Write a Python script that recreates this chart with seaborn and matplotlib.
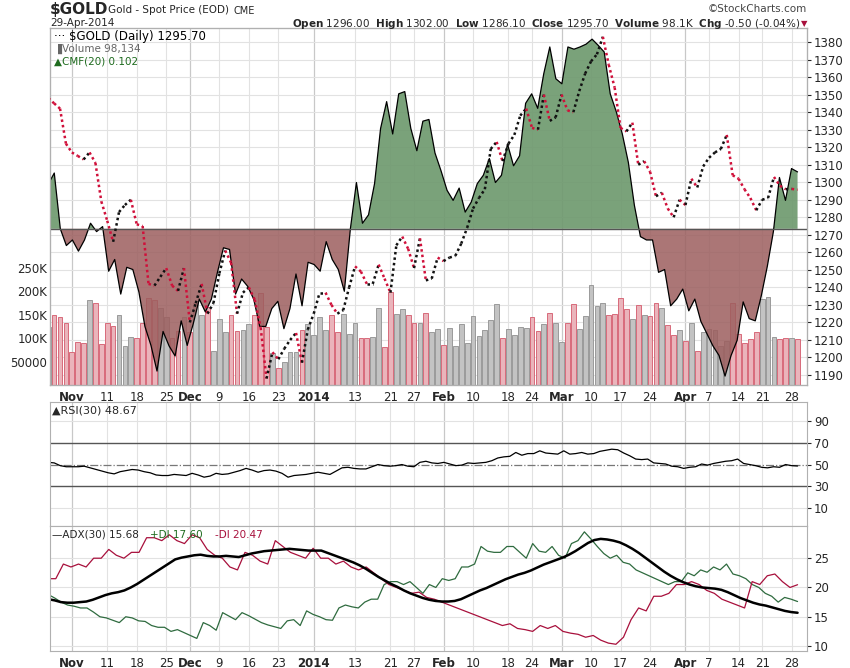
import numpy as np
import pandas as pd
import matplotlib
matplotlib.use("Agg")
import matplotlib.pyplot as plt
import seaborn as sns

sns.set_style("white")
plt.rcParams["font.family"] = ["DejaVu Sans"]

# ---- data ----
dates = pd.bdate_range("2013-10-28", "2014-04-29")
dates = dates.drop(pd.to_datetime(["2013-11-28", "2013-12-25", "2014-01-01", "2014-04-18"]))

price = [1348, 1345, 1342, 1322, 1317, 1315, 1313, 1317, 1311, 1289, 1278, 1266, 1283, 1287, 1290, 1276,
         1275, 1242, 1241, 1246, 1251, 1241, 1238, 1251, 1220, 1231, 1242, 1225, 1231, 1248, 1261, 1254,
         1225, 1237, 1240, 1233, 1217, 1188, 1203, 1199, 1205, 1210, 1214, 1197, 1216, 1225, 1237, 1237,
         1230, 1225, 1227, 1240, 1252, 1249, 1242, 1242, 1253, 1245, 1237, 1264, 1269, 1262, 1251, 1268,
         1244, 1245, 1257, 1255, 1257, 1258, 1265, 1274, 1285, 1291, 1296, 1319, 1323, 1312, 1322, 1327,
         1338, 1342, 1331, 1330, 1350, 1335, 1337, 1350, 1341, 1340, 1352, 1362, 1369, 1373, 1383, 1367,
         1354, 1331, 1329, 1334, 1310, 1312, 1306, 1292, 1294, 1285, 1280, 1290, 1287, 1302, 1297, 1309,
         1314, 1317, 1319, 1327, 1304, 1302, 1296, 1291, 1284, 1290, 1291, 1303, 1298, 1296, 1296.2, 1295.7]

cmf = [0.08, 0.10, 0.0, -0.03, -0.02, -0.04, -0.02, 0.01, -0.005, 0.004, -0.076, -0.055, -0.117, -0.069,
       -0.073, -0.113, -0.175, -0.209, -0.255, -0.184, -0.21, -0.228, -0.165, -0.209, -0.17, -0.126, -0.149,
       -0.126, -0.078, -0.034, -0.037, -0.117, -0.09, -0.103, -0.126, -0.175, -0.175, -0.143, -0.13, -0.179,
       -0.143, -0.081, -0.138, -0.06, -0.064, -0.076, -0.023, -0.055, -0.073, -0.112, 0.0, 0.083, 0.01,
       0.025, 0.081, 0.18, 0.228, 0.17, 0.242, 0.246, 0.18, 0.14, 0.193, 0.196, 0.136, 0.104, 0.069, 0.051,
       0.073, 0.03, 0.048, 0.081, 0.096, 0.126, 0.083, 0.096, 0.152, 0.113, 0.131, 0.225, 0.242, 0.216,
       0.278, 0.326, 0.269, 0.26, 0.326, 0.322, 0.326, 0.331, 0.34, 0.329, 0.317, 0.242, 0.21, 0.17, 0.119,
       0.042, -0.014, -0.02, -0.02, -0.078, -0.073, -0.138, -0.126, -0.108, -0.147, -0.126, -0.166, -0.188,
       -0.21, -0.227, -0.264, -0.227, -0.2, -0.131, -0.161, -0.165, -0.12, -0.067, -0.005, 0.092, 0.051,
       0.108, 0.102]

volume_k = [123, 150, 144, 131, 71, 92, 90, 182, 175, 88, 133, 126, 150, 84, 103, 99, 133, 186, 182, 163,
            144, 99, 114, 144, 112, 175, 148, 167, 73, 141, 112, 148, 114, 118, 129, 150, 195, 124, 69, 37,
            50, 71, 71, 118, 129, 107, 144, 118, 148, 112, 152, 109, 133, 99, 99, 103, 163, 80, 197, 152,
            161, 150, 131, 131, 154, 112, 120, 86, 122, 84, 129, 90, 146, 105, 118, 139, 173, 101, 120, 107,
            124, 122, 144, 116, 129, 154, 131, 92, 133, 173, 120, 146, 212, 169, 175, 148, 152, 186, 161, 141,
            171, 148, 146, 175, 163, 127, 107, 118, 94, 131, 73, 112, 120, 118, 84, 94, 175, 109, 90, 97,
            112, 184, 188, 103, 97, 99, 101, 98]

rsi = [52, 51.5, 49, 48, 48, 48, 48.5, 47, 45.5, 44, 42.5, 41.5, 43.5, 44.5, 45.5, 45, 43.5, 42.5, 40.5,
       40, 40, 41, 40.5, 40, 42, 40.5, 38.5, 39.5, 42, 41, 41.5, 43, 44.5, 46.5, 45, 43, 44.5, 45, 44,
       42, 38.5, 40, 40.5, 41, 42, 43, 42, 41, 44, 47, 47.5, 46.5, 46, 46, 48, 50, 49, 48.5, 49, 50, 48.5,
       48, 52, 53, 51.5, 51, 52, 50.5, 49, 49.5, 51.5, 51, 51.5, 52, 53.5, 56, 57, 57.5, 61, 58.5, 60, 60,
       62.5, 60.5, 60, 59.5, 62.5, 59.5, 60, 61, 59.5, 60, 62, 63, 64, 63.5, 60.5, 58, 55, 54.5, 55, 51.5,
       51, 50.5, 48.5, 48, 46.5, 47.5, 48, 50.5, 49.5, 51, 52, 53, 53.5, 55, 51, 50, 49, 47.5, 47, 48, 47.5,
       50, 49, 48.67]

adx = [18, 17.8, 17.5, 17.4, 17.4, 17.5, 17.6, 17.9, 18.3, 18.7, 19, 19.2, 19.5, 20, 20.6, 21.3, 22,
       22.7, 23.4, 24.1, 24.8, 25.1, 25.3, 25.5, 25.6, 25.4, 25.3, 25.3, 25.4, 25.3, 25.2, 25.5, 25.8,
       26, 26.2, 26.3, 26.4, 26.5, 26.6, 26.5, 26.4, 26.3, 26.3, 26.3, 25.9, 25.5, 25.1, 24.7, 24.3, 23.8,
       23.2, 22.5, 21.8, 21.2, 20.6, 20.1, 19.5, 19, 18.6, 18.2, 17.9, 17.7, 17.6, 17.6, 17.7, 18, 18.5,
       19, 19.5, 19.9, 20.4, 20.9, 21.4, 21.8, 22.2, 22.5, 22.9, 23.4, 23.9, 24.3, 24.7, 25.1, 25.6, 26.2,
       26.9, 27.6, 28.1, 28.3, 28.2, 28, 27.7, 27.2, 26.6, 25.9, 25.1, 24.3, 23.5, 22.7, 22, 21.4, 20.9,
       20.5, 20.2, 20, 19.9, 19.8, 19.6, 19.2, 18.7, 18.2, 17.8, 17.4, 17.1, 16.9, 16.6, 16.3, 16, 15.8,
       15.68]

plus_di = [18.8, 18.2, 17.5, 17, 16.8, 16.5, 16.5, 15.8, 15, 14.8, 14.4, 14, 15, 14.8, 14.3, 14.2, 13.5,
           13.2, 13.2, 12.5, 12.8, 12.3, 11.8, 11.3, 14, 13.5, 12.7, 15.7, 15.1, 14.5, 15.7, 15.2, 14.6,
           14, 13.6, 13.3, 13, 14.3, 14.5, 13.5, 16, 15.4, 15, 14.5, 14.4, 16.5, 17, 16.7, 16.5, 17.5, 18,
           18, 20.5, 21, 21, 20.5, 21, 20, 19, 20.5, 20, 21.5, 21.2, 21.5, 23.5, 23.5, 24, 27, 26.2, 26, 26,
           27, 27, 26, 25, 27.5, 26.2, 26, 27, 25.5, 25, 27.5, 28, 29.5, 28.3, 27, 25.8, 25, 25.5, 24.3, 24,
           23, 22.5, 22, 21.5, 21, 20.5, 21, 21, 22.5, 22, 23, 22.6, 23.5, 23, 24, 22.3, 22, 21.5, 20.5,
           20, 19, 18.5, 17.5, 18.3, 18, 17.6]

minus_di = [21.5, 21.5, 24, 23.5, 24, 23.5, 25, 25, 26.5, 25.5, 25, 26, 26, 28.5, 28.5, 28, 29, 28, 27.5,
            29, 28.5, 26.5, 25.5, 25, 23.5, 23, 26, 25.5, 24.5, 24, 28, 27, 26, 25.5, 25, 26.7, 25, 25, 24,
            24.5, 23.5, 23, 23.5, 22.5, 21.5, 20.5, 20, 19.5, 19, 19.2, 18.3, 18, 17.5, 17, 16.5, 16, 15.5,
            15, 14.5, 14, 13.5, 13.8, 13, 12.8, 12.5, 13.5, 13, 13.5, 12.5, 12.2, 12, 11.5, 11.8, 11, 10.5,
            10.3, 11.5, 14.5, 16.5, 16, 18.5, 18.5, 19, 20.5, 20.5, 21, 20.5, 19.5, 19, 18, 17.5, 17, 16.5,
            21, 20.5, 22, 22.3, 21, 20, 20.47]

month_ticks = ["2013-11-01", "2013-12-02", "2014-01-02", "2014-02-03", "2014-03-03", "2014-04-01"]
month_labels = ["Nov", "Dec", "2014", "Feb", "Mar", "Apr"]
week_ticks = ["2013-11-11", "2013-11-18", "2013-11-25", "2013-12-09", "2013-12-16", "2013-12-23",
              "2014-01-13", "2014-01-21", "2014-01-27", "2014-02-10", "2014-02-18", "2014-02-24",
              "2014-03-10", "2014-03-17", "2014-03-24", "2014-04-07", "2014-04-14", "2014-04-21", "2014-04-28"]
week_labels = [d[-2:].lstrip("0") for d in week_ticks]

N = len(dates)


def xs(series):
    # spread a series over the trading-day axis
    return np.linspace(0, N - 1, len(series))


def day(d):
    return dates.get_loc(pd.Timestamp(d))


mpos = [day(d) for d in month_ticks]
wpos = [day(d) for d in week_ticks]
XL = (0.3, 128.6)

fig = plt.figure(figsize=(8.5, 6.68), dpi=100)
W, H = 850, 668


def add_ax(top, bottom, left=50, right=807):
    return fig.add_axes([left / W, 1 - bottom / H, (right - left) / W, (bottom - top) / H])


def grid(ax, yt):
    for p in wpos:
        ax.axvline(p, color="#e2e2e2", lw=0.8, zorder=0)
    for p in mpos:
        ax.axvline(p, color="#c8c8c8", lw=0.9, zorder=0)
    for v in yt:
        ax.axhline(v, color="#e2e2e2", lw=0.8, zorder=0)


def frame(ax):
    for s in ax.spines.values():
        s.set_color("#b0b0b0")
        s.set_linewidth(0.8)


def date_axis(ax):
    ax.set_xticks(mpos + wpos)
    ax.set_xticklabels(month_labels + week_labels)
    ax.tick_params(axis="x", length=3, labelsize=8.5, pad=1)
    for t in ax.get_xticklabels()[:6]:
        t.set_fontweight("bold")


# ---- main panel ----
ax_v = add_ax(28, 385)
ax_c = ax_v.twinx()
ax_p = ax_v.twinx()
for a in (ax_v, ax_c, ax_p):
    a.set_xlim(*XL)
    frame(a)

ax_p.set_ylim(1184.3, 1388)
ptick = np.arange(1190, 1381, 10)
grid(ax_v, [])
for v in ptick:
    ax_v.axhline((v - 1184.3) / (1388 - 1184.3) * 760000, color="#e2e2e2", lw=0.8, zorder=0)

pr = np.array(price, dtype=float)
px = xs(price)
up = np.r_[True, pr[1:] >= pr[:-1]]

ax_v.set_ylim(0, 760000)
vx = xs(volume_k)
vcol_up = np.interp(vx, px, up.astype(float)) > 0.5
ax_v.bar(vx, np.array(volume_k) * 1000, width=0.8,
         color=np.where(vcol_up, "#c3c3c3", "#eab4bb"),
         edgecolor=np.where(vcol_up, "#9a9a9a", "#d86a7a"), linewidth=0.7, zorder=2)
ax_v.set_yticks([50000, 100000, 150000, 200000, 250000])
ax_v.set_yticklabels(["50000", "100K", "150K", "200K", "250K"])
ax_v.tick_params(axis="y", length=0, labelsize=8.5, pad=2)

ax_c.set_ylim(-0.28, 0.36)
c = np.array(cmf)
cx = xs(cmf)
ax_c.fill_between(cx, 0, c, where=c >= 0, interpolate=True, color="#6f9a6f", alpha=0.92, lw=0)
ax_c.fill_between(cx, 0, c, where=c <= 0, interpolate=True, color="#9c5e5e", alpha=0.85, lw=0)
sns.lineplot(x=cx, y=c, ax=ax_c, color="black", lw=0.9)
ax_c.axhline(0, color="#555555", lw=1)
ax_c.set_yticks([])
ax_c.set_ylabel("")

for i in range(1, len(pr)):
    ax_p.plot(px[i - 1:i + 1], pr[i - 1:i + 1], ls=(0, (1, 1.2)), lw=1.8,
              color="#111111" if up[i] else "#d0103a", zorder=5)
ax_p.set_yticks(ptick)
ax_p.tick_params(axis="y", length=3, labelsize=8.5, pad=2)
ax_p.set_ylabel("")

date_axis(ax_v)

ax_v.text(0.005, 0.995, "\u00b7\u00b7\u00b7 $GOLD (Daily) 1295.70", transform=ax_v.transAxes,
          fontsize=8.5, va="top", color="black", zorder=10)
ax_v.text(0.005, 0.955, "\u2590Volume 98,134", transform=ax_v.transAxes, fontsize=7.5,
          va="top", color="#666666", zorder=10)
ax_v.text(0.005, 0.92, "\u25b2CMF(20) 0.102", transform=ax_v.transAxes, fontsize=7.5,
          va="top", color="#1e6b1e", zorder=10)

# ---- RSI panel ----
ax_r = add_ax(402, 526)
ax_r.set_xlim(*XL)
ax_r.set_ylim(-6, 107)
grid(ax_r, [10, 90])
ax_r.axhline(70, color="#555555", lw=1)
ax_r.axhline(30, color="#555555", lw=1)
ax_r.axhline(50, color="#777777", lw=0.9, ls="-.")
sns.lineplot(x=xs(rsi), y=rsi, ax=ax_r, color="black", lw=0.9)
ax_r.yaxis.tick_right()
ax_r.set_yticks([10, 30, 50, 70, 90])
ax_r.tick_params(axis="y", length=3, labelsize=8.5, pad=2)
ax_r.set_xticks([])
frame(ax_r)
ax_r.text(0.003, 0.97, "\u25b2RSI(30) 48.67", transform=ax_r.transAxes, fontsize=8, va="top")

# ---- ADX panel ----
ax_a = add_ax(526, 651)
ax_a.set_xlim(*XL)
ax_a.set_ylim(9.15, 30.5)
grid(ax_a, [10, 15, 20, 25])
sns.lineplot(x=xs(plus_di), y=plus_di, ax=ax_a, color="#2f6b3f", lw=0.9)
sns.lineplot(x=xs(minus_di), y=minus_di, ax=ax_a, color="#a8103c", lw=0.9)
sns.lineplot(x=xs(adx), y=adx, ax=ax_a, color="black", lw=1.8)
ax_a.yaxis.tick_right()
ax_a.set_yticks([10, 15, 20, 25])
ax_a.tick_params(axis="y", length=3, labelsize=8.5, pad=2)
date_axis(ax_a)
frame(ax_a)
ax_a.text(0.003, 0.97, "\u2014ADX(30) 15.68", transform=ax_a.transAxes, fontsize=7.5, va="top")
ax_a.text(0.132, 0.97, "+DI 17.60", transform=ax_a.transAxes, fontsize=7.5, va="top", color="#1e6b1e")
ax_a.text(0.218, 0.97, "-DI 20.47", transform=ax_a.transAxes, fontsize=7.5, va="top", color="#a8103c")

# ---- header ----
fig.text(50 / W, 1 - 2 / H, "$GOLD", fontsize=11, fontweight="bold", va="top")
fig.text(108 / W, 1 - 5 / H, "Gold - Spot Price (EOD)", fontsize=7.5, va="top")
fig.text(234 / W, 1 - 6 / H, "CME", fontsize=7, va="top")
fig.text(50 / W, 1 - 18 / H, "29-Apr-2014", fontsize=7.5, va="top")
fig.text(807 / W, 1 - 4 / H, "\u00a9StockCharts.com", fontsize=7.5, va="top", ha="right", color="#444444")
fig.text(800 / W, 1 - 17 / H,
         r"$\bf{Open}$ 1296.00  $\bf{High}$ 1302.00  $\bf{Low}$ 1286.10  $\bf{Close}$ 1295.70  "
         r"$\bf{Volume}$ 98.1K  $\bf{Chg}$ -0.50 (-0.04%)",
         fontsize=7.5, va="top", ha="right")
fig.text(801 / W, 1 - 19 / H, "\u25bc", fontsize=6, va="top", ha="left", color="#a8103c")

fig.savefig("out.png", dpi=100)
